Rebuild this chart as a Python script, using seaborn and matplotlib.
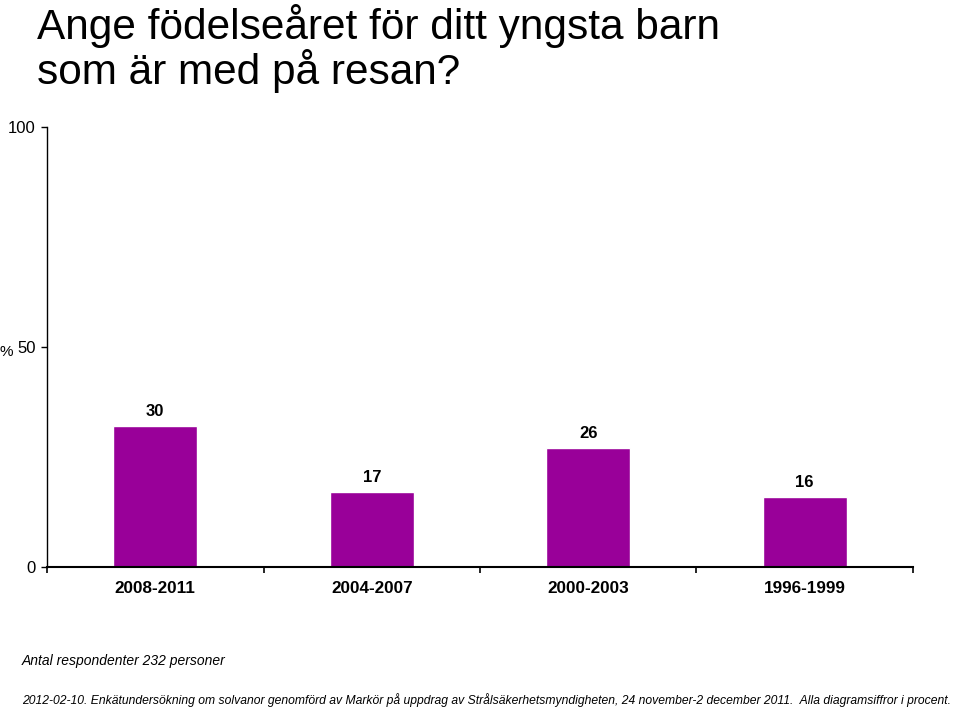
import matplotlib
matplotlib.use("Agg")
import matplotlib.pyplot as plt
import seaborn as sns
import pandas as pd

# data
categories = ["2008-2011", "2004-2007", "2000-2003", "1996-1999"]
heights = [32, 17, 27, 16]
value_labels = ["30", "17", "26", "16"]
y_ticks = [0, 50, 100]

title = "Ange födelseåret för ditt yngsta barn\nsom är med på resan?"
base_note = "Antal respondenter 232 personer"
footer = ("2012-02-10. Enkätundersökning om solvanor genomförd av Markör på uppdrag av "
          "Strålsäkerhetsmyndigheten, 24 november-2 december 2011.  Alla diagramsiffror i procent.")

bar_color = "#990099"

sns.set_style("ticks")
plt.rcParams["font.family"] = ["Liberation Sans", "DejaVu Sans"]
plt.rcParams["text.color"] = "black"
plt.rcParams["xtick.color"] = "black"
plt.rcParams["ytick.color"] = "black"

df = pd.DataFrame({"cat": categories, "val": heights})

fig = plt.figure(figsize=(9.6, 7.09), dpi=100)
ax = fig.add_axes([0.049, 0.2003, 0.902, 0.6206])

sns.barplot(data=df, x="cat", y="val", color=bar_color, width=0.39,
            saturation=1, ax=ax)

for i, (h, lab) in enumerate(zip(heights, value_labels)):
    ax.annotate(lab, (i, h), xytext=(0, 5), textcoords="offset points",
                ha="center", va="bottom", fontsize=12, fontweight="bold")

ax.set_xlim(-0.5, len(categories) - 0.5)
ax.set_ylim(0, 100)
ax.set_yticks(y_ticks)
ax.set_yticklabels([str(t) for t in y_ticks], fontsize=12)
ax.set_xticks(range(len(categories)))
ax.set_xticklabels(categories, fontsize=12.3, fontweight="bold")
ax.set_xticks([i - 0.5 for i in range(len(categories) + 1)], minor=True)
ax.tick_params(axis="x", which="major", length=0, pad=10, bottom=True)
ax.tick_params(axis="x", which="minor", length=4.5, width=1.2, bottom=True,
               direction="out")
ax.tick_params(axis="y", length=4.5, width=1, left=True, direction="out", pad=3.5)
ax.set_xlabel("")
ax.set_ylabel("")
sns.despine(ax=ax)
for side in ["left", "bottom"]:
    ax.spines[side].set_color("black")
ax.spines["left"].set_linewidth(1)
ax.spines["bottom"].set_linewidth(1.5)

fig.text(0.0, 1 - 352 / 709, "%", fontsize=11, va="center", ha="left")
fig.text(37 / 960, 1 - 4 / 709, title, fontsize=30.5, va="top", ha="left", linespacing=1.02)
fig.text(22 / 960, 1 - 661 / 709, base_note, fontsize=10, style="italic", va="center")
fig.text(22 / 960, 1 - 700 / 709, footer, fontsize=8.78, style="italic", va="center")

fig.savefig("out.png", dpi=100)
